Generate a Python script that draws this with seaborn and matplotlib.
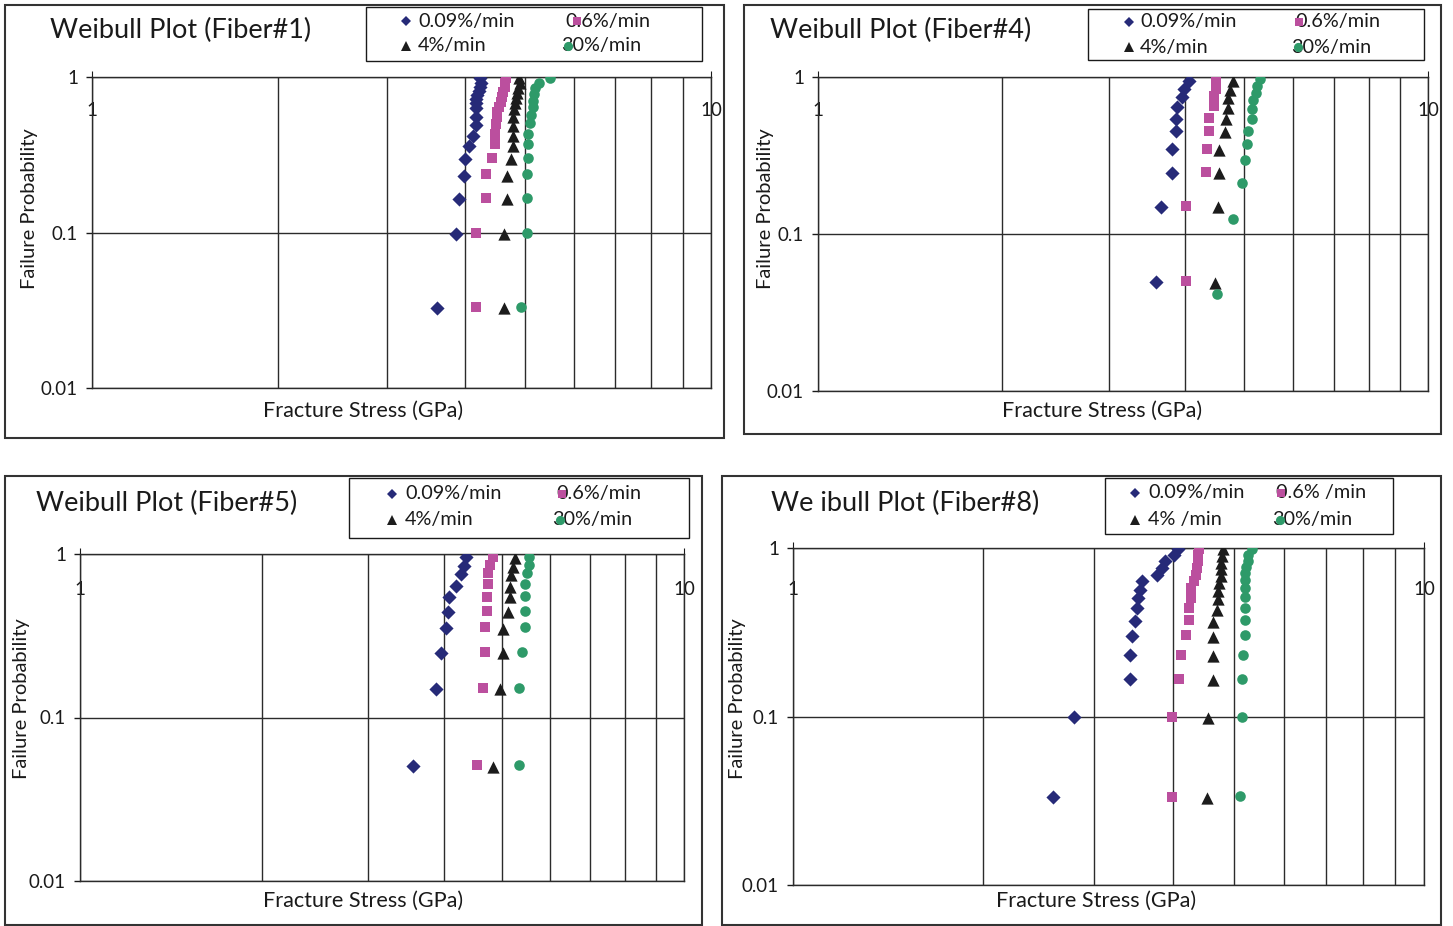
import numpy as np
import pandas as pd
import matplotlib
matplotlib.use("Agg")
import matplotlib.pyplot as plt
import seaborn as sns
from matplotlib.lines import Line2D
from matplotlib.patches import Rectangle
from matplotlib.ticker import FixedLocator, FixedFormatter, NullFormatter, LogLocator

# ---------------- data ----------------
RATES = ["0.09%/min", "0.6%/min", "4%/min", "30%/min"]
RATE_LABELS_1 = ["0.09%/min", "0.6%/min", "4%/min", "30%/min"]
RATE_LABELS_8 = ["0.09%/min", "0.6% /min", "4% /min", "30%/min"]
TITLES = ["Weibull Plot (Fiber#1)", "Weibull Plot (Fiber#4)",
          "Weibull Plot (Fiber#5)", "We ibull Plot (Fiber#8)"]
X_TICKS = [1, 10]
X_TICK_LABELS = ["1", "10"]
Y_TICKS = [0.01, 0.1, 1]
Y_TICK_LABELS = ["0.01", "0.1", "1"]

# Fiber #1
F1_S009 = [4.235, 4.246, 4.235, 4.22, 4.19, 4.17, 4.17, 4.17, 4.17, 4.17, 4.12, 4.06, 4.01, 3.99, 3.91, 3.87, 3.61]
F1_P009 = [0.981, 0.919, 0.866, 0.816, 0.766, 0.719, 0.678, 0.629, 0.556, 0.491, 0.417, 0.360, 0.298, 0.232, 0.164, 0.098, 0.0327]
F1_S06 = [4.665, 4.653, 4.642, 4.618, 4.596, 4.574, 4.54, 4.517, 4.506, 4.495, 4.477, 4.477, 4.42, 4.335, 4.335, 4.17, 4.17]
F1_P06 = [0.981, 0.919, 0.866, 0.804, 0.747, 0.694, 0.644, 0.598, 0.556, 0.498, 0.430, 0.371, 0.303, 0.237, 0.1675, 0.0989, 0.033]
F1_S4 = [4.902, 4.915, 4.884, 4.855, 4.842, 4.824, 4.81, 4.793, 4.78, 4.78, 4.78, 4.745, 4.677, 4.68, 4.63, 4.63]
F1_P4 = [0.981, 0.911, 0.846, 0.786, 0.730, 0.678, 0.620, 0.556, 0.484, 0.417, 0.360, 0.297, 0.232, 0.164, 0.098, 0.0325]
F1_S30 = [5.495, 5.268, 5.202, 5.183, 5.164, 5.158, 5.114, 5.10, 5.059, 5.059, 5.059, 5.04, 5.04, 5.04, 4.939]
F1_P30 = [0.981, 0.911, 0.846, 0.774, 0.701, 0.644, 0.569, 0.504, 0.430, 0.371, 0.303, 0.237, 0.1675, 0.0989, 0.033]

# Fiber #4
F4_S009 = [4.052, 3.986, 3.956, 3.882, 3.863, 3.863, 3.809, 3.809, 3.646, 3.583]
F4_P009 = [0.947, 0.839, 0.743, 0.641, 0.540, 0.453, 0.346, 0.246, 0.149, 0.0497]
F4_S06 = [4.487, 4.487, 4.487, 4.462, 4.462, 4.379, 4.379, 4.346, 4.325, 4.011, 4.011]
F4_P06 = [0.967, 0.902, 0.835, 0.757, 0.654, 0.551, 0.455, 0.349, 0.249, 0.151, 0.0502]
F4_S4 = [4.795, 4.736, 4.695, 4.695, 4.665, 4.647, 4.548, 4.548, 4.525, 4.469]
F4_P4 = [0.947, 0.827, 0.732, 0.638, 0.538, 0.448, 0.343, 0.244, 0.148, 0.049]
F4_S30 = [5.304, 5.238, 5.224, 5.171, 5.14, 5.14, 5.075, 5.044, 5.006, 4.95, 4.795, 4.503]
F4_P30 = [0.967, 0.876, 0.794, 0.714, 0.623, 0.538, 0.455, 0.374, 0.296, 0.212, 0.125, 0.0413]

# Fiber #5
F5_S009 = [4.357, 4.329, 4.275, 4.194, 4.088, 4.062, 4.036, 3.960, 3.885, 3.556]
F5_P009 = [0.954, 0.848, 0.755, 0.640, 0.543, 0.444, 0.351, 0.247, 0.149, 0.0505]
F5_S06 = [4.834, 4.773, 4.742, 4.742, 4.714, 4.714, 4.683, 4.683, 4.653, 4.538]
F5_P06 = [0.963, 0.856, 0.762, 0.653, 0.548, 0.448, 0.356, 0.251, 0.151, 0.051]
F5_S4 = [5.25, 5.204, 5.165, 5.151, 5.151, 5.118, 5.01, 5.01, 4.959, 4.834]
F5_P4 = [0.941, 0.836, 0.744, 0.631, 0.543, 0.444, 0.349, 0.247, 0.149, 0.050]
F5_S30 = [5.539, 5.539, 5.497, 5.461, 5.461, 5.461, 5.461, 5.393, 5.325, 5.325]
F5_P30 = [0.963, 0.856, 0.762, 0.653, 0.553, 0.448, 0.356, 0.253, 0.152, 0.0512]

# Fiber #8
F8_S009 = [4.079, 4.016, 3.886, 3.840, 3.771, 3.574, 3.548, 3.525, 3.505, 3.483, 3.442, 3.421, 3.421, 2.788, 2.585]
F8_P009 = [0.980, 0.906, 0.835, 0.763, 0.696, 0.641, 0.567, 0.502, 0.438, 0.368, 0.300, 0.231, 0.166, 0.099, 0.0332]
F8_S06 = [4.399, 4.388, 4.378, 4.362, 4.346, 4.320, 4.268, 4.268, 4.242, 4.242, 4.193, 4.116, 4.090, 3.991, 3.991]
F8_P06 = [0.993, 0.915, 0.835, 0.763, 0.696, 0.635, 0.580, 0.506, 0.442, 0.373, 0.304, 0.233, 0.167, 0.0996, 0.0335]
F8_S4 = [4.797, 4.784, 4.772, 4.766, 4.761, 4.737, 4.714, 4.710, 4.692, 4.634, 4.634, 4.634, 4.634, 4.551, 4.524]
F8_P4 = [0.980, 0.894, 0.817, 0.746, 0.680, 0.622, 0.554, 0.495, 0.431, 0.365, 0.297, 0.228, 0.164, 0.0982, 0.0329]
F8_S30 = [5.332, 5.267, 5.267, 5.223, 5.209, 5.209, 5.209, 5.209, 5.209, 5.209, 5.209, 5.171, 5.141, 5.141, 5.110]
F8_P30 = [0.980, 0.906, 0.835, 0.773, 0.712, 0.650, 0.580, 0.513, 0.442, 0.376, 0.304, 0.233, 0.168, 0.100, 0.0337]

SERIES = [
    [(F1_S009, F1_P009), (F1_S06, F1_P06), (F1_S4, F1_P4), (F1_S30, F1_P30)],
    [(F4_S009, F4_P009), (F4_S06, F4_P06), (F4_S4, F4_P4), (F4_S30, F4_P30)],
    [(F5_S009, F5_P009), (F5_S06, F5_P06), (F5_S4, F5_P4), (F5_S30, F5_P30)],
    [(F8_S009, F8_P009), (F8_S06, F8_P06), (F8_S4, F8_P4), (F8_S30, F8_P30)],
]
LEGEND_LABELS = [RATE_LABELS_1, RATE_LABELS_1, RATE_LABELS_1, RATE_LABELS_8]

# ---------------- styles ----------------
COLORS = ["#262a78", "#bb4f9e", "#1c1c1c", "#2e9a69"]
MARKERS = ["D", "s", "^", "o"]
SIZES = [52, 60, 78, 58]
LEG_MS = [5.6, 6.4, 7.2, 6.6]

# layout in pixels of the 1453x926 canvas
PANELS = [
    dict(frame=(5, 5, 724, 438), plot=(92, 77, 711, 388), title=(50, 30),
         legend=(366, 7, 702, 61), rows=(21, 46), c1m=406, c1t=418,
         c2=((565, 577), (561, 568)), xlab=(363, 411), ylab=(30, 209), xt=31),
    dict(frame=(744, 5, 1441, 434), plot=(818, 77, 1428, 391), title=(770, 30),
         legend=(1088, 9, 1424, 60), rows=(22, 47), c1m=1129, c1t=1140,
         c2=((1295, 1299), (1291, 1298)), xlab=(1102, 411), ylab=(765, 209), xt=31),
    dict(frame=(5, 476, 702, 925), plot=(80, 554, 684, 881), title=(36, 503),
         legend=(349, 478, 689, 538), rows=(494, 520), c1m=392, c1t=405,
         c2=((556, 562), (552, 560)), xlab=(363, 901), ylab=(22, 699), xt=33),
    dict(frame=(722, 476, 1441, 925), plot=(793, 548, 1424, 885), title=(771, 503),
         legend=(1105, 478, 1393, 534), rows=(493, 520), c1m=1135, c1t=1148,
         c2=((1276, 1281), (1272, 1280)), xlab=(1096, 901), ylab=(738, 699), xt=39),
]

W, H = 1453, 926
sns.set_style("white")
plt.rcParams["font.family"] = ["Lato", "DejaVu Sans"]

fig = plt.figure(figsize=(W / 100, H / 100), dpi=100)
fig.patch.set_facecolor("white")


def fx(px):
    return px / W


def fy(py):
    return 1 - py / H


GRID_C = "#2b2b2b"

for pi, spec in enumerate(PANELS):
    x0, y0, x1, y1 = spec["frame"]
    fig.add_artist(Rectangle((fx(x0), fy(y1)), (x1 - x0) / W, (y1 - y0) / H,
                             transform=fig.transFigure, fill=False,
                             ec="#333333", lw=1.5, zorder=0))
    px0, py0, px1, py1 = spec["plot"]
    ax = fig.add_axes([fx(px0), fy(py1), (px1 - px0) / W, (py1 - py0) / H])

    rows = []
    for ri, (s, p) in enumerate(SERIES[pi]):
        for sv, pv in zip(s, p):
            rows.append(dict(stress=sv, prob=pv, rate=RATES[ri]))
    df = pd.DataFrame(rows)
    for ri, rate in enumerate(RATES):
        sub = df[df["rate"] == rate]
        sns.scatterplot(data=sub, x="stress", y="prob", ax=ax, marker=MARKERS[ri],
                        s=SIZES[ri], color=COLORS[ri], linewidth=0, zorder=3,
                        legend=False)

    ax.set_xscale("log")
    ax.set_yscale("log")
    ax.set_xlim(1, 10)
    ax.set_ylim(0.01, 1)

    ax.xaxis.set_major_locator(FixedLocator(X_TICKS))
    ax.xaxis.set_major_formatter(FixedFormatter(X_TICK_LABELS))
    ax.xaxis.set_minor_locator(LogLocator(base=10, subs=np.arange(2, 10)))
    ax.xaxis.set_minor_formatter(NullFormatter())
    ax.yaxis.set_major_locator(FixedLocator(Y_TICKS))
    ax.yaxis.set_major_formatter(FixedFormatter(Y_TICK_LABELS))
    ax.yaxis.set_minor_formatter(NullFormatter())

    ax.grid(True, which="major", axis="both", color=GRID_C, lw=1.0)
    ax.grid(True, which="minor", axis="x", color=GRID_C, lw=1.0)
    ax.set_axisbelow(True)
    for sp in ax.spines.values():
        sp.set_color(GRID_C)
        sp.set_linewidth(1.0)

    # x labels sit just under the top axis line
    ax.xaxis.set_ticks_position("top")
    off_pt = (spec["xt"] + 11) * 0.72
    ax.tick_params(axis="x", which="major", top=True, bottom=False, labeltop=True,
                   labelbottom=False, direction="out", length=4,
                   pad=-(off_pt + 4), labelsize=13.5, colors="#1a1a1a")
    ax.tick_params(axis="x", which="minor", top=False, bottom=False, length=0)
    ax.tick_params(axis="y", which="major", left=True, direction="out", length=4,
                   width=1, pad=6, labelsize=13.5, colors="#1a1a1a")
    ax.tick_params(axis="y", which="minor", left=False, length=0)

    ax.set_xlabel("Fracture Stress (GPa)", fontsize=15.6, color="#1a1a1a", va="center")
    ax.set_ylabel("Failure Probability", fontsize=14.5, color="#1a1a1a", va="center")
    lx, ly = spec["xlab"]
    ax.xaxis.set_label_coords((lx - px0) / (px1 - px0), (py1 - ly) / (py1 - py0))
    yx, yy = spec["ylab"]
    ax.yaxis.set_label_coords((yx - px0) / (px1 - px0), (py1 - yy) / (py1 - py0))

    tx, ty = spec["title"]
    fig.text(fx(tx), fy(ty), TITLES[pi], fontsize=19.5, color="#1a1a1a",
             ha="left", va="center")

    # legend box
    lx0, ly0, lx1, ly1 = spec["legend"]
    fig.add_artist(Rectangle((fx(lx0), fy(ly1)), (lx1 - lx0) / W, (ly1 - ly0) / H,
                             transform=fig.transFigure, fill=False,
                             ec="#1a1a1a", lw=1.0, zorder=1))
    labels = LEGEND_LABELS[pi]
    r1, r2 = spec["rows"]
    entries = [
        (0, spec["c1m"], spec["c1t"], r1),
        (2, spec["c1m"], spec["c1t"], r2),
        (1, spec["c2"][0][1], spec["c2"][0][0], r1),
        (3, spec["c2"][1][1], spec["c2"][1][0], r2),
    ]
    for ri, mx, txx, ry in entries:
        fig.text(fx(txx), fy(ry), labels[ri], fontsize=14.3, color="#1a1a1a",
                 ha="left", va="center", zorder=2)
        fig.add_artist(Line2D([fx(mx)], [fy(ry)], marker=MARKERS[ri],
                              markersize=LEG_MS[ri], color=COLORS[ri], lw=0,
                              markeredgewidth=0, transform=fig.transFigure,
                              zorder=3))

fig.savefig("out.png", dpi=100, facecolor="white")
